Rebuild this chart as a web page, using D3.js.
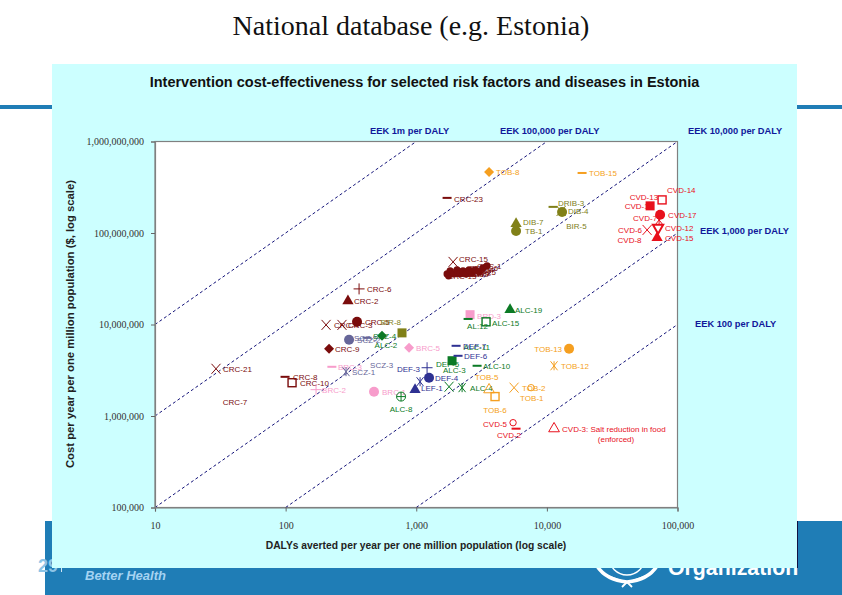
<!DOCTYPE html>
<html><head><meta charset="utf-8">
<script src="https://cdn.jsdelivr.net/npm/d3@7/dist/d3.min.js"></script>
<style>html,body{margin:0;padding:0;background:#fff}svg{display:block}</style>
</head><body><svg id="c" width="842" height="595"></svg>
<script>
// ---- data ----
const slideTitle = "National database (e.g. Estonia)";
const chartTitle = "Intervention cost-effectiveness for selected risk factors and diseases in Estonia";
const xTitle = "DALYs averted per year per one million population (log scale)";
const yTitle = "Cost per year per one million population ($, log scale)";
const xTicks = [10, 100, 1000, 10000, 100000];
const yTicks = [100000, 1000000, 10000000, 100000000, 1000000000];
const thresholds = [1000000, 100000, 10000, 1000, 100];
const thresholdLabels = ["EEK 1m per DALY", "EEK 100,000 per DALY", "EEK 10,000 per DALY", "EEK 1,000 per DALY", "EEK 100 per DALY"];

const crcNames = ["CRC-6","CRC-2","CRC-5","CRC-4","CRC-3","CRC-9","CRC-21","CRC-8","CRC-10","CRC-7","CRC-23","CRC-15","CRC-11","CRC-12","CRC-13","CRC-14","CRC-16","CRC-17","CRC-18","CRC-19","CRC-20","CRC-22","CRC-24","CRC-25","CRC-26","CRC-1"];
const crcDalys = [365,300,352,204,270,215,29.3,99,112,41,1722,1914,1722,1816,1768,1947,2051,2163,2280,2404,2535,2673,2818,3027,3243,3483];
const crcCosts = [2.45e7,1.81e7,1.07e7,9.9e6,9.9e6,5.43e6,3.28e6,2.68e6,2.31e6,1.43e6,2.42e8,4.83e7,3.57e7,3.85e7,3.40e7,3.57e7,3.95e7,3.57e7,3.85e7,3.57e7,3.95e7,3.66e7,3.95e7,3.76e7,4.16e7,4.38e7];
const crcShapes = ["plus","tri","circle","x","x","diamond","x","dash","squareO","none","dash","x","dot","dot","dot","dot","dot","dot","dot","dot","dot","dot","dot","dot","dot","dot"];

const brcNames = ["BRC-3","BRC-2","BRC-1","BRC-5","BRD-3"];
const brcDalys = [226,171,475,881,2582];
const brcCosts = [3.45e6,1.94e6,1.84e6,5.57e6,1.28e7];
const brcShapes = ["dash","plus","circle","diamond","square"];

const sczNames = ["SCZ-1","SCZ-3","SCZ-2","SCZ-5"];
const sczDalys = [290,443,306,420];
const sczCosts = [3.05e6,3.63e6,6.8e6,7.16e6];
const sczShapes = ["star","none","circle","dash"];

const alcNames = ["SCZ-4","ALC-2","ALC-8","ALC-4","ALC-14","ALC-15","AL:12","ALC-19","ALC-10","ALC-11","ALC-3","DEF-5"];
const alcDalys = [547,480,765,1783,2244,3423,2494,5224,2923,2300,1600,1880];
const alcCosts = [7.53e6,5.9e6,1.63e6,2.09e6,2.04e6,1.07e7,1.15e7,1.45e7,3.54e6,5.7e6,3.2e6,4.02e6];
const alcShapes = ["diamond","none","circlePlus","x","star","squareO","dash","tri","dash","none","none","square"];

const defNames = ["DEF-3","DEF-4","LEF-2","LEF-1","DEF-7","DEF-6"];
const defDalys = [1210,1253,1070,979,2018,2089];
const defCosts = [3.37e6,2.62e6,2.37e6,1.94e6,5.85e6,4.55e6];
const defShapes = ["plus","circle","star","tri","dash","dash"];

const tobNames = ["TOB-8","TOB-15","TOB-13","TOB-12","TOB-2","TOB-1","TOB-6","TOB-5"];
const tobDalys = [3610,18600,14790,11350,5610,7570,4010,3610];
const tobCosts = [4.65e8,4.53e8,5.43e6,3.54e6,2.04e6,2.04e6,1.63e6,1.94e6];
const tobShapes = ["diamond","dash","circle","star","x","circleO","squareO","triO"];

const dibNames = ["DRIB-3","DIB-1","DIB-4","DIB-7","TB-1","BIR-5","BIR-8"];
const dibDalys = [11150,12850,13070,5810,5810,14290,778];
const dibCosts = [1.93e8,1.74e8,1.70e8,1.26e8,1.05e8,1.43e8,8.1e6];
const dibShapes = ["dash","x","circle","tri","circle","none","square"];

const cvdNames = ["CVD-14","CVD-16","CVD-13","CVD-17","CVD-7","CVD-12","CVD-6","CVD-15","CVD-8","CVD-5","CVD-2","CVD-3: Salt reduction in food"];
const cvdDalys = [76200,61700,61700,73600,72300,71000,58500,69800,36000,5510,5810,11350];
const cvdCosts = [2.30e8,1.98e8,1.98e8,1.58e8,1.39e8,1.14e8,1.08e8,8.85e7,8.4e7,8.45e5,7.27e5,7.27e5];
const cvdShapes = ["squareO","none","square","circle","star","invO","x","tri","none","circleO","dash","triO"];

// ---- styling / layout ----
const groups = [
  {n:crcNames,x:crcDalys,y:crcCosts,s:crcShapes,c:"#7a0c0c"},
  {n:brcNames,x:brcDalys,y:brcCosts,s:brcShapes,c:"#f79ccb"},
  {n:sczNames,x:sczDalys,y:sczCosts,s:sczShapes,c:"#666699"},
  {n:alcNames,x:alcDalys,y:alcCosts,s:alcShapes,c:"#0b7a25"},
  {n:defNames,x:defDalys,y:defCosts,s:defShapes,c:"#2e3192"},
  {n:tobNames,x:tobDalys,y:tobCosts,s:tobShapes,c:"#f59f20"},
  {n:dibNames,x:dibDalys,y:dibCosts,s:dibShapes,c:"#808018"},
  {n:cvdNames,x:cvdDalys,y:cvdCosts,s:cvdShapes,c:"#e8101c"}
];
// label offsets from the marker (dx, dy, anchor)
const labelPos = {
  "CRC-6":[8,3],"CRC-5":[8,3],"CRC-4":[8,3],"CRC-3":[6,3],"CRC-7":[0,3,"middle"],"CRC-23":[7,4],"CRC-15":[6,0],
  "CRC-8":[8,3],"CRC-10":[8,3],"CRC-21":[7,3],
  "CRC-11":[-1,3],"CRC-12":[-1,3],"CRC-13":[-1,3],"CRC-14":[-1,3],"CRC-16":[-4,3],"CRC-17":[-4,3],"CRC-18":[-6,3],"CRC-19":[-6,3],"CRC-20":[-8,3],"CRC-22":[-10,3],"CRC-24":[-10,3],"CRC-25":[-12,3],"CRC-26":[-14,3],"CRC-1":[-10,3],
  "BRC-3":[6,3],"BRC-2":[6,3],"BRC-1":[8,3],"BRC-5":[7,3],"BRD-3":[7,4],
  "SCZ-2":[8,3],"SCZ-3":[0,3],"SCZ-5":[-13,3],"SCZ-1":[6,3],
  "SCZ-4":[-9,3],"ALC-2":[0,3],"ALC-8":[0,15,"middle"],"ALC-4":[21,4],"ALC-14":[0,0,"hide"],"ALC-15":[6,4],"AL:12":[-1,10],"ALC-19":[5,3],"ALC-10":[6,3],"ALC-11":[0,3],"ALC-3":[0,3],"DEF-5":[-16,6],
  "DEF-3":[-7,4,"end"],"DEF-4":[6,3],"LEF-2":[-1,-2,"hide"],"LEF-1":[6,1],"DEF-7":[7,3],"DEF-6":[6,3],
  "TOB-8":[7,3],"TOB-15":[7,3],"TOB-13":[-7,3,"end"],"TOB-12":[7,3],"TOB-2":[8,3],"TOB-1":[-11,13],"TOB-6":[0,16,"middle"],"TOB-5":[-14,-10],
  "DRIB-3":[5,-1],"DIB-1":[0,0,"hide"],"DIB-4":[6,2],"DIB-7":[7,1],"TB-1":[9,3],"BIR-5":[-1,10],"BIR-8":[-1,-8,"end"],
  "CVD-14":[5,-7],"CVD-16":[3,3,"end"],"CVD-13":[8,-6,"end"],"CVD-17":[8,3],"CVD-7":[-2,1,"end"],"CVD-12":[7,3],"CVD-6":[-5,3,"end"],"CVD-15":[8,3],"CVD-8":[22,3,"end"],"CVD-5":[-6,4,"end"],"CVD-2":[-19,9],"CVD-3: Salt reduction in food":[8,3]
};
const svg = d3.select("#c");
const sans = "'Liberation Sans',Arial,sans-serif", serif = "'Liberation Serif','Times New Roman',serif";
const band = "#1f7db6";

// slide background
svg.append("rect").attr("x",0).attr("y",105).attr("width",842).attr("height",4).attr("fill",band);
svg.append("rect").attr("x",45).attr("y",521).attr("width",797).attr("height",74).attr("fill",band);
svg.append("text").attr("x",411).attr("y",35).attr("text-anchor","middle").attr("font-family",serif).attr("font-size",28).attr("fill","#111").text(slideTitle);
svg.append("text").attr("x",38).attr("y",572).attr("font-family",sans).attr("font-weight","bold").attr("font-size",18).attr("fill","#8cc4e6").text("29");
svg.append("rect").attr("x",61).attr("y",560).attr("width",1).attr("height",12).attr("fill","#cfe6f5");
svg.append("text").attr("x",85).attr("y",580).attr("font-family",sans).attr("font-style","italic").attr("font-weight","bold").attr("font-size",13).attr("fill","#a5d3f2").text("Better Health");
svg.append("text").attr("x",668).attr("y",575).attr("font-family",sans).attr("font-weight","bold").attr("font-size",21.3).attr("fill","#fff").text("Organization");
// emblem
const emblem = svg.append("g").attr("fill","none").attr("stroke","#fff");
emblem.append("circle").attr("cx",627).attr("cy",557).attr("r",18).attr("stroke-width",1.5);
emblem.append("path").attr("d","M597 566 Q606 580 627 582 Q648 580 657 566").attr("stroke-width",3.5);
emblem.append("path").attr("d","M603 574 L622 581 M651 574 L632 581 M627 582 L622 587 M627 582 L632 587").attr("stroke-width",1.8);

// cyan panel
svg.append("rect").attr("x",52).attr("y",64).attr("width",745).attr("height",504).attr("fill","#ccffff");
svg.append("path").attr("d","M797.5 521V568").attr("stroke","#114").attr("stroke-width",1);
svg.append("text").attr("x",424.5).attr("y",87).attr("text-anchor","middle").attr("font-family",sans).attr("font-weight","bold").attr("font-size",14.5).attr("fill","#111").text(chartTitle);

// scales
const x = d3.scaleLog().domain([10,100000]).range([155,677.5]);
const y = d3.scaleLog().domain([100000,1000000000]).range([507.5,141.5]);

// plot
svg.append("rect").attr("x",155).attr("y",141.5).attr("width",522.5).attr("height",366).attr("fill","#fff").attr("stroke","#808080").attr("stroke-width",1.2);

const plot = svg.append("g");
// iso-cost-effectiveness dashed lines
thresholds.forEach(t => {
  let x0 = 10, x1 = 100000;
  if (x0*t < 100000) x0 = 100000/t;
  if (x1*t > 1000000000) x1 = 1000000000/t;
  plot.append("line").attr("x1",x(x0)).attr("y1",y(x0*t)).attr("x2",x(x1)).attr("y2",y(x1*t))
    .attr("stroke","#14147a").attr("stroke-width",1).attr("stroke-dasharray","3 2.5");
});

// axes
const ax = svg.append("g").attr("transform","translate(0,507.5)").call(d3.axisBottom(x).tickValues(xTicks).tickFormat(d3.format(",")).tickSize(4).tickPadding(10));
const ay = svg.append("g").attr("transform","translate(155,0)").call(d3.axisLeft(y).tickValues(yTicks).tickFormat(d3.format(",")).tickSize(4).tickPadding(7));
[ax,ay].forEach(a=>{
  a.select(".domain").attr("stroke","#808080").attr("stroke-width",1.2);
  a.selectAll(".tick line").attr("stroke","#666");
  a.selectAll("text").attr("font-family",serif).attr("font-size",10).attr("fill","#333");
});

// axis titles
svg.append("text").attr("x",416).attr("y",549).attr("text-anchor","middle").attr("font-family",sans).attr("font-weight","bold").attr("font-size",10.3).attr("fill","#222").text(xTitle);
svg.append("text").attr("transform","translate(74,324) rotate(-90)").attr("text-anchor","middle").attr("font-family",sans).attr("font-weight","bold").attr("font-size",11.3).attr("fill","#222").text(yTitle);

// threshold labels
const tlPos = [[370,134],[500,134],[688,134],[700,234],[695,327]];
thresholdLabels.forEach((t,i)=>svg.append("text").attr("x",tlPos[i][0]).attr("y",tlPos[i][1]).attr("font-family",sans).attr("font-weight","bold").attr("font-size",9.3).attr("fill","#10189a").text(t));

// marker drawing
const sym = (t,s)=>d3.symbol().type(t).size(s)();
function marker(g,shape,c){
  const R=4.5;
  switch(shape){
    case "circle": g.append("circle").attr("r",R+.5).attr("fill",c); break;
    case "dot": g.append("circle").attr("r",3.6).attr("fill",c); break;
    case "circleO": g.append("circle").attr("r",3.2).attr("fill","none").attr("stroke",c).attr("stroke-width",1); break;
    case "circlePlus": g.append("circle").attr("r",4.5).attr("fill","none").attr("stroke",c).attr("stroke-width",1);
      g.append("path").attr("d","M-4.5 0H4.5M0 -4.5V4.5").attr("stroke",c).attr("stroke-width",1); break;
    case "square": g.append("rect").attr("x",-R).attr("y",-R).attr("width",2*R).attr("height",2*R).attr("fill",c); break;
    case "squareO": g.append("rect").attr("x",-4).attr("y",-4).attr("width",8).attr("height",8).attr("fill","none").attr("stroke",c).attr("stroke-width",1.4); break;
    case "tri": g.append("path").attr("d",sym(d3.symbolTriangle,55)).attr("fill",c); break;
    case "triO": g.append("path").attr("d",sym(d3.symbolTriangle,50)).attr("fill","none").attr("stroke",c).attr("stroke-width",1); break;
    case "invO": g.append("path").attr("d",sym(d3.symbolTriangle,45)).attr("transform","rotate(180)").attr("fill","none").attr("stroke",c).attr("stroke-width",2); break;
    case "diamond": g.append("path").attr("d",sym(d3.symbolSquare,50)).attr("transform","rotate(45)").attr("fill",c); break;
    case "dash": g.append("rect").attr("x",-4.5).attr("y",-1).attr("width",9).attr("height",2).attr("fill",c); break;
    case "plus": g.append("path").attr("d","M-5.5 0H5.5M0 -5.5V5.5").attr("stroke",c).attr("stroke-width",1); break;
    case "x": g.append("path").attr("d","M-4.5 -5L4.5 5M4.5 -5L-4.5 5").attr("stroke",c).attr("stroke-width",1); break;
    case "star": g.append("path").attr("d","M-3.5 -4.5L3.5 4.5M3.5 -4.5L-3.5 4.5M0 -4.5V4.5").attr("stroke",c).attr("stroke-width",1); break;
  }
}
// labels go first so that the markers sit over them, as in the reference
groups.forEach(gr=>{
  gr.n.forEach((name,i)=>{
    const p = labelPos[name]||[6,3];
    if(p[2]==="hide") return;
    plot.append("text").attr("x",x(gr.x[i])+p[0]).attr("y",y(gr.y[i])+p[1]).attr("text-anchor",p[2]||"start")
      .attr("font-family",sans).attr("font-size",8).attr("fill",gr.c).text(name);
  });
});
groups.forEach(gr=>{
  gr.n.forEach((name,i)=>{
    const g = plot.append("g").attr("transform",`translate(${x(gr.x[i])},${y(gr.y[i])})`);
    marker(g,gr.s[i],gr.c);
  });
});
// note under the salt-reduction label
svg.append("text").attr("x",616).attr("y",442).attr("text-anchor","middle").attr("font-family",sans).attr("font-size",8).attr("fill","#e8101c").text("(enforced)");
</script></body></html>
